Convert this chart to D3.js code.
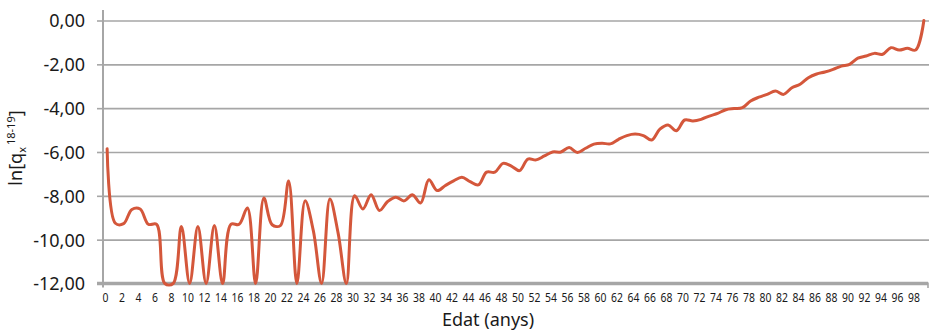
<!DOCTYPE html>
<html>
<head>
<meta charset="utf-8">
<script src="https://cdn.jsdelivr.net/npm/d3@7"></script>
<style>
  html, body { margin: 0; padding: 0; background: #ffffff; }
  svg { display: block; }
  text { fill: #1a1a1a; }
</style>
</head>
<body>
<svg id="chart" width="930" height="332"></svg>
<script>
// Ages 0–99 (one category per year)
const ages = d3.range(0, 100);

// ln of the 2018-2019 probability of death at each age
const lnQx = [
  -5.85, -9.25, -9.27, -8.62, -8.60, -9.30, -9.30, -12.00, -12.00, -9.40,
  -12.00, -9.40, -12.00, -9.35, -12.00, -9.30, -9.30, -8.55, -12.00, -8.10,
  -9.32, -9.36, -7.32, -12.00, -8.23, -9.60, -12.00, -8.14, -9.70, -12.00,
  -8.00, -8.60, -7.95, -8.67, -8.26, -8.06, -8.23, -7.95, -8.33, -7.27,
  -7.76, -7.53, -7.32, -7.15, -7.35, -7.50, -6.92, -6.92, -6.52, -6.64,
  -6.85, -6.32, -6.36, -6.18, -6.00, -6.00, -5.80, -6.02, -5.83, -5.64,
  -5.60, -5.63, -5.42, -5.25, -5.18, -5.25, -5.45, -4.96, -4.77, -5.03,
  -4.54, -4.58, -4.51, -4.36, -4.24, -4.07, -4.02, -3.98, -3.67, -3.50,
  -3.37, -3.22, -3.37, -3.07, -2.91, -2.61, -2.44, -2.35, -2.23, -2.08,
  -2.00, -1.72, -1.62, -1.50, -1.54, -1.24, -1.35, -1.27, -1.35, 0.00
];

// Axis ticks
const yTicks = [0, -2, -4, -6, -8, -10, -12];
const xTickAges = d3.range(0, 100, 2);

const svg = d3.select("#chart");
const plotLeft = 103, plotRight = 928, plotTop = 20.5, plotBottom = 283.5;
const axisColor = "#a6a6a6";

const x = d3.scaleBand().domain(ages).range([plotLeft, plotRight]);
const cx = a => x(a) + x.bandwidth() / 2;
const y = d3.scaleLinear().domain([-12, 0]).range([plotBottom, plotTop]);

const locale = d3.formatLocale({ decimal: ",", thousands: ".", grouping: [3], currency: ["", " €"], minus: "-" });
const fmt = locale.format(".2f");

// Horizontal gridlines
const grid = svg.append("g")
  .attr("transform", `translate(${plotLeft},0)`)
  .call(d3.axisLeft(y).tickValues(yTicks.filter(v => v > -12)).tickSize(-(plotRight - plotLeft + 1)).tickFormat(""));
grid.select(".domain").remove();
grid.selectAll("line").attr("stroke", axisColor).attr("stroke-width", 1.6);

// Y axis: short ticks and labels
const yAxis = svg.append("g")
  .attr("transform", `translate(${plotLeft},0)`)
  .call(d3.axisLeft(y).tickValues(yTicks).tickSize(6).tickPadding(12).tickFormat(fmt));
yAxis.select(".domain").remove();
yAxis.selectAll("line").attr("stroke", axisColor).attr("stroke-width", 1.6);
yAxis.selectAll("text")
  .attr("font-family", "'Noto Sans', sans-serif")
  .attr("font-size", 18)
  .attr("dy", "0.36em")
  .style("fill", "#1a1a1a");

// Vertical axis line
svg.append("line")
  .attr("x1", plotLeft).attr("x2", plotLeft)
  .attr("y1", 10).attr("y2", plotBottom + 4)
  .attr("stroke", axisColor).attr("stroke-width", 2);

// X axis labels (condensed horizontally)
const xAxis = svg.append("g")
  .attr("transform", `translate(0,${plotBottom})`)
  .call(d3.axisBottom(x).tickValues(xTickAges).tickSize(0).tickPadding(9));
xAxis.select(".domain").remove();
xAxis.selectAll("text")
  .attr("font-family", "'Noto Sans', sans-serif")
  .attr("font-size", 13)
  .attr("x", -2)
  .attr("transform", "scale(0.8,1)")
  .style("fill", "#1a1a1a");

// Thick horizontal axis line with end tick
svg.append("line")
  .attr("x1", plotLeft - 6).attr("x2", plotRight)
  .attr("y1", plotBottom).attr("y2", plotBottom)
  .attr("stroke", axisColor).attr("stroke-width", 3.5);
svg.append("line")
  .attr("x1", plotRight).attr("x2", plotRight)
  .attr("y1", plotBottom - 1).attr("y2", plotBottom + 4.5)
  .attr("stroke", axisColor).attr("stroke-width", 1.6);

// Smoothed series line
const line = d3.line()
  .x((d, i) => cx(ages[i]))
  .y(d => y(d))
  .curve(d3.curveCatmullRom.alpha(0.5));

svg.append("path")
  .datum(lnQx)
  .attr("d", line)
  .attr("fill", "none")
  .attr("stroke", "#d4573b")
  .attr("stroke-width", 3)
  .attr("stroke-linejoin", "round")
  .attr("stroke-linecap", "round");

// Axis titles
svg.append("text")
  .attr("x", 488).attr("y", 326)
  .attr("text-anchor", "middle")
  .attr("font-family", "'Noto Sans', sans-serif")
  .attr("font-size", 18)
  .text("Edat (anys)");

const yt = svg.append("text")
  .attr("transform", "translate(22,148) rotate(-90)")
  .attr("text-anchor", "middle")
  .attr("font-family", "'Noto Sans', sans-serif")
  .attr("font-size", 18);
yt.append("tspan").text("ln[q");
yt.append("tspan").attr("font-size", 11).attr("dy", 4).text("x");
yt.append("tspan").attr("font-size", 11).attr("dy", -11).attr("dx", 2).text("18-19");
yt.append("tspan").attr("dy", 7).text("]");
</script>
</body>
</html>
